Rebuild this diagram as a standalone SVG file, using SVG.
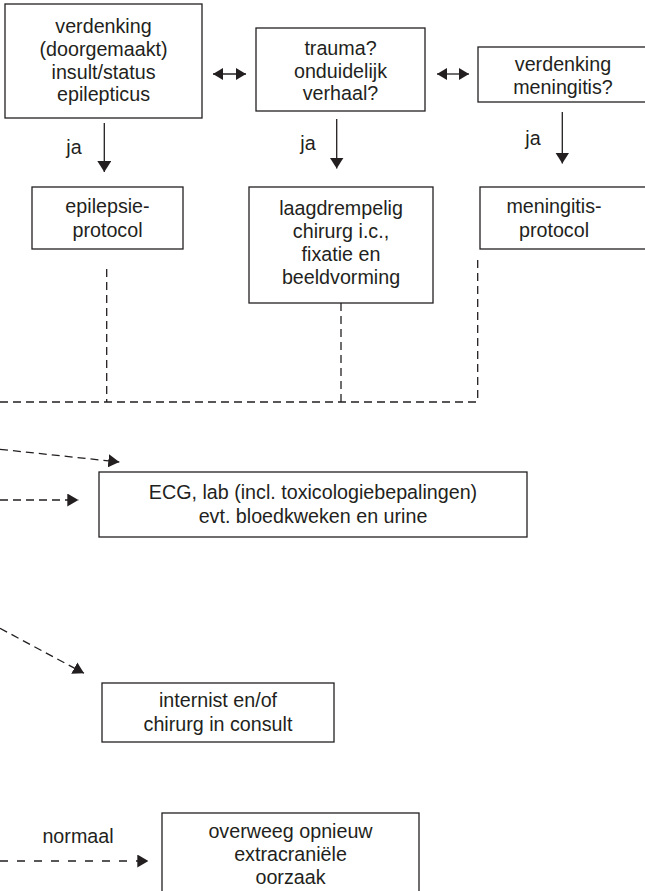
<svg xmlns="http://www.w3.org/2000/svg" width="645" height="891" viewBox="0 0 645 891">
<style>
.box{fill:#fff;stroke:#231f20;stroke-width:1.3}
.t{font-family:"Liberation Sans",Arial,Helvetica,sans-serif;font-size:19.7px;fill:#231f20;text-anchor:middle}
.solid{stroke:#231f20;stroke-width:1.3;fill:none}
.dash{stroke:#231f20;stroke-width:1.3;fill:none;stroke-dasharray:8 5}
</style>
<defs>
<marker id="ahd" viewBox="0 0 10 10" refX="10" refY="5" markerWidth="11" markerHeight="14" markerUnits="userSpaceOnUse" orient="auto-start-reverse" preserveAspectRatio="none"><path d="M0,0 L10,5 L0,10 z" fill="#231f20"/></marker>
<marker id="ahs" viewBox="0 0 10 10" refX="10" refY="5" markerWidth="10" markerHeight="12" markerUnits="userSpaceOnUse" orient="auto-start-reverse" preserveAspectRatio="none"><path d="M0,0 L10,5 L0,10 z" fill="#231f20"/></marker>
<marker id="ahx" viewBox="0 0 10 10" refX="10" refY="5" markerWidth="11" markerHeight="13" markerUnits="userSpaceOnUse" orient="auto-start-reverse" preserveAspectRatio="none"><path d="M0,0 L10,5 L0,10 z" fill="#231f20"/></marker>
</defs>
<rect width="645" height="891" fill="#fff"/>

<g id="n-insult">
<rect class="box" x="5" y="4" width="197" height="114"/>
<text class="t" x="103.5" y="33">verdenking</text>
<text class="t" x="103.5" y="56">(doorgemaakt)</text>
<text class="t" x="103.5" y="79">insult/status</text>
<text class="t" x="103.5" y="101">epilepticus</text>
</g>
<g id="n-trauma">
<rect class="box" x="256" y="28" width="169" height="83"/>
<text class="t" x="340.5" y="55">trauma?</text>
<text class="t" x="340.5" y="77.5">onduidelijk</text>
<text class="t" x="340.5" y="100">verhaal?</text>
</g>
<g id="n-meningitis">
<rect class="box" x="478" y="47" width="180" height="55"/>
<text class="t" x="563" y="71">verdenking</text>
<text class="t" x="563" y="93.5">meningitis?</text>
</g>
<g id="n-epilepsieprotocol">
<rect class="box" x="32" y="187" width="151" height="62"/>
<text class="t" x="107.5" y="213">epilepsie-</text>
<text class="t" x="107.5" y="237">protocol</text>
</g>
<g id="n-chirurg">
<rect class="box" x="249" y="187" width="184" height="116"/>
<text class="t" x="341" y="215">laagdrempelig</text>
<text class="t" x="341" y="238">chirurg i.c.,</text>
<text class="t" x="341" y="261">fixatie en</text>
<text class="t" x="341" y="284">beeldvorming</text>
</g>
<g id="n-meningitisprotocol">
<rect class="box" x="480" y="187" width="180" height="62"/>
<text class="t" x="554" y="213">meningitis-</text>
<text class="t" x="554" y="237">protocol</text>
</g>
<g id="n-ecg">
<rect class="box" x="99" y="472" width="428" height="65"/>
<text class="t" x="313" y="499">ECG, lab (incl. toxicologiebepalingen)</text>
<text class="t" x="313" y="523">evt. bloedkweken en urine</text>
</g>
<g id="n-internist">
<rect class="box" x="102" y="683" width="232" height="59"/>
<text class="t" x="218" y="707">internist en/of</text>
<text class="t" x="218" y="731">chirurg in consult</text>
</g>
<g id="n-overweeg">
<rect class="box" x="162" y="813" width="257" height="90"/>
<text class="t" x="290.5" y="838">overweeg opnieuw</text>
<text class="t" x="290.5" y="861">extracraniële</text>
<text class="t" x="290.5" y="884">oorzaak</text>
</g>

<g id="connectors">
<line class="solid" x1="213" y1="74" x2="246" y2="74" marker-start="url(#ahs)" marker-end="url(#ahs)"/>
<line class="solid" x1="437" y1="74" x2="469" y2="74" marker-start="url(#ahs)" marker-end="url(#ahs)"/>
<line class="solid" x1="104.3" y1="123" x2="104.3" y2="172" marker-end="url(#ahd)"/>
<line class="solid" x1="336.7" y1="119" x2="336.7" y2="168.5" marker-end="url(#ahd)"/>
<line class="solid" x1="562.3" y1="112" x2="562.3" y2="163.5" marker-end="url(#ahd)"/>
<text class="t" x="74" y="154">ja</text>
<text class="t" x="308" y="150">ja</text>
<text class="t" x="533" y="145">ja</text>

<line class="dash" x1="106.7" y1="269" x2="106.7" y2="402"/>
<line class="dash" x1="341" y1="303" x2="341" y2="402"/>
<line class="dash" x1="477.7" y1="260" x2="477.7" y2="402"/>
<line class="dash" x1="0" y1="402" x2="478.3" y2="402"/>

<line class="dash" x1="0" y1="449.3" x2="119.3" y2="462" marker-end="url(#ahx)"/>
<line class="dash" x1="0" y1="500" x2="78.3" y2="500" marker-end="url(#ahx)"/>
<line class="dash" x1="0" y1="628.3" x2="84" y2="673.3" marker-end="url(#ahx)"/>
<line class="dash" x1="0" y1="861" x2="148.3" y2="861" marker-end="url(#ahx)" style="stroke-dasharray:8 9"/>
<text class="t" x="78" y="843">normaal</text>
</g>
</svg>
